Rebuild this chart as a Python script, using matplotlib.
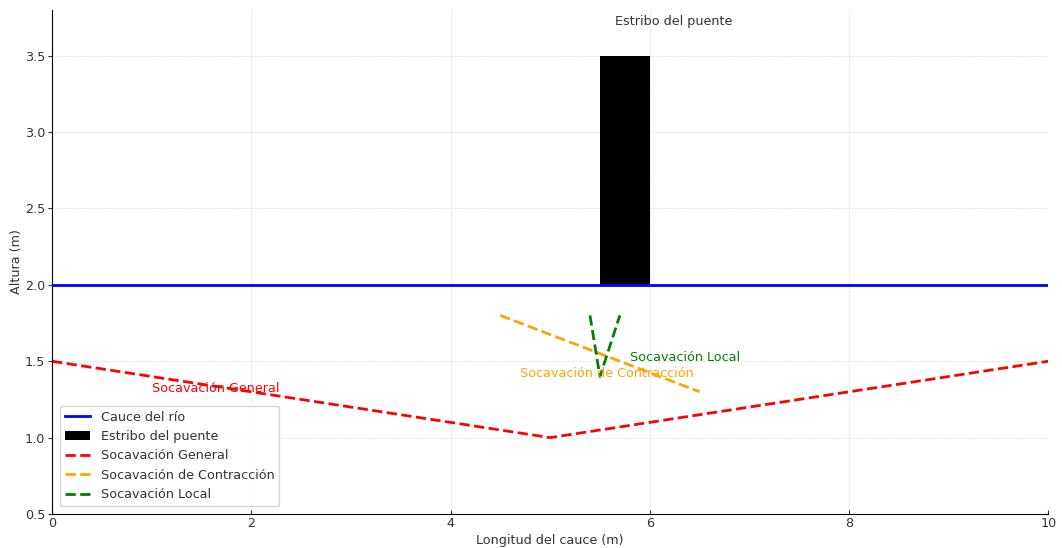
import matplotlib
matplotlib.use("Agg")
import matplotlib.pyplot as plt

# datos
cauce_x = [0, 10]
cauce_y = [2, 2]
estribo_x = 5.5
estribo_ancho = 0.5
estribo_base = 2.0
estribo_alto = 1.5
general_x = [0, 5, 10]
general_y = [1.5, 1.0, 1.5]
contraccion_x = [4.5, 6.5]
contraccion_y = [1.8, 1.3]
local_x = [5.4, 5.5, 5.7]
local_y = [1.8, 1.4, 1.8]

plt.rcParams['font.size'] = 9.2
plt.rcParams['text.color'] = '#333333'
plt.rcParams['axes.labelcolor'] = '#333333'
plt.rcParams['xtick.color'] = '#333333'
plt.rcParams['ytick.color'] = '#333333'

fig = plt.figure(figsize=(10.62, 5.48), dpi=100)
ax = fig.add_axes([0.049, 0.062, 0.938, 0.92])
ax.set_axisbelow(True)

ax.plot(cauce_x, cauce_y, color='blue', lw=2, label='Cauce del río')
ax.bar(estribo_x + estribo_ancho / 2, estribo_alto, width=estribo_ancho,
       bottom=estribo_base, color='black', label='Estribo del puente')
ax.plot(general_x, general_y, 'r--', lw=2, label='Socavación General')
ax.plot(contraccion_x, contraccion_y, '--', color='orange', lw=2,
        label='Socavación de Contracción')
ax.plot(local_x, local_y, 'g--', lw=2, label='Socavación Local')

ax.text(5.65, 3.7, 'Estribo del puente')
ax.text(1, 1.3, 'Socavación General', color='red')
ax.text(4.7, 1.4, 'Socavación de Contracción', color='orange')
ax.text(5.8, 1.5, 'Socavación Local', color='green')

ax.set_xlim(0, 10)
ax.set_ylim(0.5, 3.8)
ax.set_xlabel('Longitud del cauce (m)', labelpad=3)
ax.set_ylabel('Altura (m)', labelpad=1)
ax.spines['top'].set_visible(False)
ax.spines['right'].set_visible(False)
ax.tick_params(axis='x', direction='in', length=3, pad=2)
ax.tick_params(axis='y', length=3, pad=2)
ax.grid(True, ls='--', lw=0.5, color='#dddddd')

handles, labels = ax.get_legend_handles_labels()
orden = [0, 4, 1, 2, 3]
ax.legend([handles[i] for i in orden], [labels[i] for i in orden],
          loc='lower left', borderaxespad=0.6)

fig.savefig('out.png', dpi=100)
